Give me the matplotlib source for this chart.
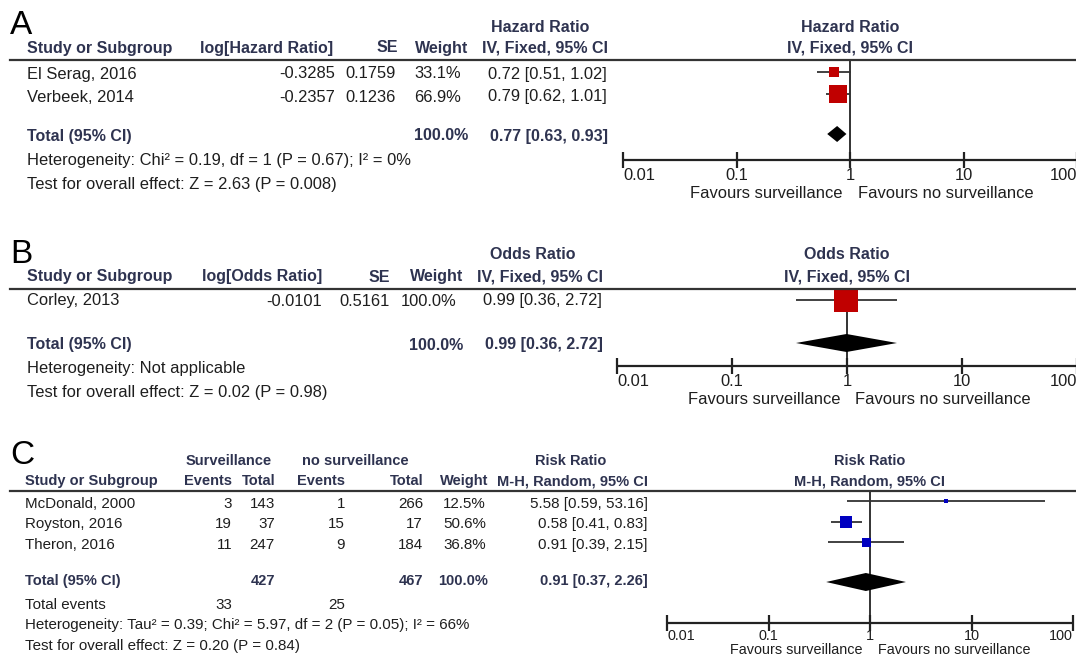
import matplotlib
matplotlib.use("Agg")
import matplotlib.pyplot as plt
from matplotlib.lines import Line2D
import numpy as np

plt.rcParams['font.family'] = ['Liberation Sans', 'DejaVu Sans']

# ---------------- DATA ----------------
# Panel A
a_studies = ["El Serag, 2016", "Verbeek, 2014"]
a_loghr = ["-0.3285", "-0.2357"]
a_se = ["0.1759", "0.1236"]
a_weight = ["33.1%", "66.9%"]
a_est = [0.72, 0.79]
a_lo = [0.51, 0.62]
a_hi = [1.02, 1.01]
a_total = (0.77, 0.63, 0.93)
a_total_weight = "100.0%"
a_het = "Heterogeneity: Chi\u00b2 = 0.19, df = 1 (P = 0.67); I\u00b2 = 0%"
a_test = "Test for overall effect: Z = 2.63 (P = 0.008)"

# Panel B
b_studies = ["Corley, 2013"]
b_logor = ["-0.0101"]
b_se = ["0.5161"]
b_weight = ["100.0%"]
b_est = [0.99]
b_lo = [0.36]
b_hi = [2.72]
b_total = (0.99, 0.36, 2.72)
b_total_weight = "100.0%"
b_het = "Heterogeneity: Not applicable"
b_test = "Test for overall effect: Z = 0.02 (P = 0.98)"

# Panel C
c_studies = ["McDonald, 2000", "Royston, 2016", "Theron, 2016"]
c_surv_events = [3, 19, 11]
c_surv_total = [143, 37, 247]
c_nosurv_events = [1, 15, 9]
c_nosurv_total = [266, 17, 184]
c_weight = ["12.5%", "50.6%", "36.8%"]
c_est = [5.58, 0.58, 0.91]
c_lo = [0.59, 0.41, 0.39]
c_hi = [53.16, 0.83, 2.15]
c_total = (0.91, 0.37, 2.26)
c_total_weight = "100.0%"
c_het = "Heterogeneity: Tau\u00b2 = 0.39; Chi\u00b2 = 5.97, df = 2 (P = 0.05); I\u00b2 = 66%"
c_test = "Test for overall effect: Z = 0.20 (P = 0.84)"

tick_vals = [0.01, 0.1, 1, 10, 100]
tick_labels = ["0.01", "0.1", "1", "10", "100"]
fav_left = "Favours surveillance"
fav_right = "Favours no surveillance"

# ---------------- STYLE ----------------
W, H = 1076, 657
HEAD = '#2e3350'
BODY = '#1e1e1e'
RED = '#c00000'
BLUE = '#0000c0'

fig = plt.figure(figsize=(W / 100, H / 100), dpi=100)
fig.patch.set_facecolor('white')


def fmt_ci(e, lo, hi):
    return f"{e:.2f} [{lo:.2f}, {hi:.2f}]"


def txt(x, y, s, ha='left', bold=False, size=11.5, color=None):
    if color is None:
        color = HEAD if bold else BODY
    fig.text(x / W, 1 - y / H, s, ha=ha, va='center', fontsize=size,
             fontweight='bold' if bold else 'normal', color=color)


def hline(y, x0=10, x1=1076):
    fig.add_artist(Line2D([x0 / W, x1 / W], [1 - y / H, 1 - y / H],
                          color='#333333', lw=1.6, transform=fig.transFigure))


def forest(x_left, x_right, y_top, y_axis, ys, est, lo, hi, sizes, color,
           tot, y_tot, dh, size_txt, y_fav, pad=0):
    ax = fig.add_axes([x_left / W, 1 - y_axis / H, (x_right - x_left) / W,
                       (y_axis - y_top) / H])
    ax.set_xscale('log')
    ax.set_xlim(tick_vals[0], tick_vals[-1])
    ax.set_ylim(y_axis, y_top)
    ax.patch.set_alpha(0)
    for s in ['top', 'left', 'right']:
        ax.spines[s].set_visible(False)
    ax.spines['bottom'].set_color('#222222')
    ax.spines['bottom'].set_linewidth(1.6)
    ax.spines['bottom'].set_capstyle('butt')
    ax.set_yticks([])
    ax.set_xticks(tick_vals)
    ax.set_xticklabels(tick_labels)
    ax.xaxis.set_minor_locator(matplotlib.ticker.NullLocator())
    ax.tick_params(axis='x', direction='inout', length=12, width=1.6,
                   color='#222222', labelsize=size_txt, labelcolor=BODY, pad=pad)
    labs = ax.get_xticklabels()
    labs[0].set_horizontalalignment('left')
    labs[-1].set_horizontalalignment('right')
    ax.axvline(1, color='#333333', lw=1.4, zorder=1)
    for yy, e, l, h, sz in zip(ys, est, lo, hi, sizes):
        ax.plot([l, h], [yy, yy], color='#333333', lw=1.3, zorder=2,
                solid_capstyle='butt')
        ax.plot([e], [yy], marker='s', ms=sz * 0.72, color=color,
                markeredgewidth=0, linestyle='none', zorder=3)
    e, l, h = tot
    ax.fill([l, e, h, e], [y_tot, y_tot - dh, y_tot, y_tot + dh],
            color='black', zorder=4, lw=0)
    xc = x_left + (x_right - x_left) * (np.log10(1) - np.log10(tick_vals[0])) / \
        (np.log10(tick_vals[-1]) - np.log10(tick_vals[0]))
    txt(xc - 7, y_fav, fav_left, ha='right', size=size_txt)
    txt(xc + 8, y_fav, fav_right, ha='left', size=size_txt)
    return ax


# ================= PANEL A =================
FB = 11.5   # bold size
FS = 11.9   # regular size
fig.text(10 / W, 1 - 25 / H, "A", fontsize=24, ha='left', va='center', color='black')
txt(540, 27, "Hazard Ratio", ha='center', bold=True, size=FB)
txt(850, 27, "Hazard Ratio", ha='center', bold=True, size=FB)
txt(850, 48, "IV, Fixed, 95% CI", ha='center', bold=True, size=FB)
txt(27, 48, "Study or Subgroup", bold=True, size=FB)
txt(333, 48, "log[Hazard Ratio]", ha='right', bold=True, size=FB)
txt(398, 48, "SE", ha='right', bold=True, size=FB)
txt(468, 48, "Weight", ha='right', bold=True, size=FB)
txt(608, 48, "IV, Fixed, 95% CI", ha='right', bold=True, size=FB)
hline(60)
a_rows = [74, 97]
for yy, st, lg, se, w, e, l, h in zip(a_rows, a_studies, a_loghr, a_se, a_weight,
                                         a_est, a_lo, a_hi):
    txt(27, yy, st, size=FS)
    txt(335, yy, lg, ha='right', size=FS)
    txt(396, yy, se, ha='right', size=FS)
    txt(461, yy, w, ha='right', size=FS)
    txt(607, yy, fmt_ci(e, l, h), ha='right', size=FS)
txt(27, 136, "Total (95% CI)", bold=True, size=FB)
txt(468, 136, a_total_weight, ha='right', bold=True, size=FB)
txt(608, 136, fmt_ci(*a_total), ha='right', bold=True, size=FB)
txt(27, 161, a_het, size=FS)
txt(27, 185, a_test, size=FS)
forest(623, 1077, 60, 160, [72, 94], a_est, a_lo, a_hi, [10, 18], RED,
       a_total, 134, 8, FS, 193)

# ================= PANEL B =================
fig.text(10 / W, 1 - 255 / H, "B", fontsize=24, ha='left', va='center', color='black')
txt(533, 255, "Odds Ratio", ha='center', bold=True, size=FB)
txt(847, 255, "Odds Ratio", ha='center', bold=True, size=FB)
txt(847, 277, "IV, Fixed, 95% CI", ha='center', bold=True, size=FB)
txt(27, 277, "Study or Subgroup", bold=True, size=FB)
txt(322, 277, "log[Odds Ratio]", ha='right', bold=True, size=FB)
txt(390, 277, "SE", ha='right', bold=True, size=FB)
txt(463, 277, "Weight", ha='right', bold=True, size=FB)
txt(603, 277, "IV, Fixed, 95% CI", ha='right', bold=True, size=FB)
hline(289)
b_rows = [301]
for yy, st, lg, se, w, e, l, h in zip(b_rows, b_studies, b_logor, b_se, b_weight,
                                         b_est, b_lo, b_hi):
    txt(27, yy, st, size=FS)
    txt(322, yy, lg, ha='right', size=FS)
    txt(390, yy, se, ha='right', size=FS)
    txt(456, yy, w, ha='right', size=FS)
    txt(602, yy, fmt_ci(e, l, h), ha='right', size=FS)
txt(27, 345, "Total (95% CI)", bold=True, size=FB)
txt(463, 345, b_total_weight, ha='right', bold=True, size=FB)
txt(603, 345, fmt_ci(*b_total), ha='right', bold=True, size=FB)
txt(27, 369, b_het, size=FS)
txt(27, 393, b_test, size=FS)
forest(617, 1077, 289, 366, [300], b_est, b_lo, b_hi, [24], RED,
       b_total, 343, 9, FS, 400)

# ================= PANEL C =================
FCB = 10.5
FC = 10.9
fig.text(10 / W, 1 - 455 / H, "C", fontsize=24, ha='left', va='center', color='black')
txt(229, 461, "Surveillance", ha='center', bold=True, size=FCB)
txt(355, 461, "no surveillance", ha='center', bold=True, size=FCB)
txt(571, 461, "Risk Ratio", ha='center', bold=True, size=FCB)
txt(870, 461, "Risk Ratio", ha='center', bold=True, size=FCB)
txt(870, 481, "M-H, Random, 95% CI", ha='center', bold=True, size=FCB)
txt(25, 481, "Study or Subgroup", bold=True, size=FCB)
txt(232, 481, "Events", ha='right', bold=True, size=FCB)
txt(275, 481, "Total", ha='right', bold=True, size=FCB)
txt(345, 481, "Events", ha='right', bold=True, size=FCB)
txt(423, 481, "Total", ha='right', bold=True, size=FCB)
txt(488, 481, "Weight", ha='right', bold=True, size=FCB)
txt(648, 481, "M-H, Random, 95% CI", ha='right', bold=True, size=FCB)
hline(491)
c_rows = [504, 524, 545]
for yy, st, se_, st_, ne, nt, w, e, l, h in zip(c_rows, c_studies, c_surv_events,
                                                c_surv_total, c_nosurv_events,
                                                c_nosurv_total, c_weight,
                                                c_est, c_lo, c_hi):
    txt(25, yy, st, size=FC)
    txt(232, yy, str(se_), ha='right', size=FC)
    txt(275, yy, str(st_), ha='right', size=FC)
    txt(345, yy, str(ne), ha='right', size=FC)
    txt(423, yy, str(nt), ha='right', size=FC)
    txt(486, yy, w, ha='right', size=FC)
    txt(648, yy, fmt_ci(e, l, h), ha='right', size=FC)
txt(25, 581, "Total (95% CI)", bold=True, size=FCB)
txt(275, 581, str(sum(c_surv_total)), ha='right', bold=True, size=FCB)
txt(423, 581, str(sum(c_nosurv_total)), ha='right', bold=True, size=FCB)
txt(488, 581, c_total_weight, ha='right', bold=True, size=FCB)
txt(648, 581, fmt_ci(*c_total), ha='right', bold=True, size=FCB)
txt(25, 605, "Total events", size=FC)
txt(232, 605, str(sum(c_surv_events)), ha='right', size=FC)
txt(345, 605, str(sum(c_nosurv_events)), ha='right', size=FC)
txt(25, 625, c_het, size=FC)
txt(25, 646, c_test, size=FC)
forest(667, 1073, 491, 623, [501, 522, 542], c_est, c_lo, c_hi, [5, 12, 9], BLUE,
       c_total, 582, 9, 10.4, 650, pad=-2)

fig.savefig("out.png", dpi=100, facecolor='white')
